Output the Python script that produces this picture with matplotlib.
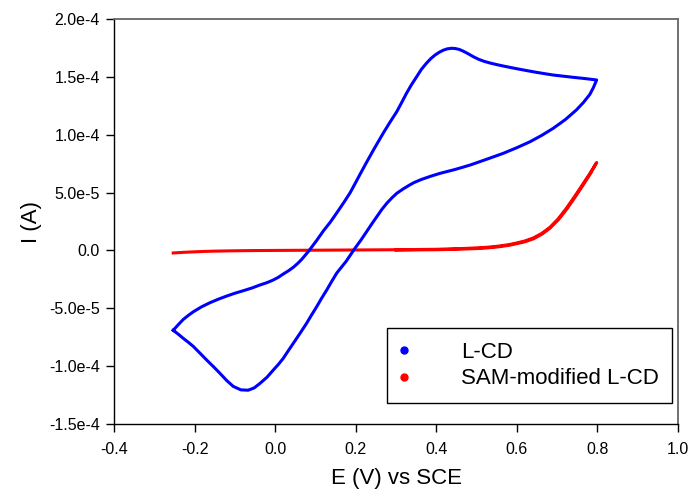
import matplotlib
matplotlib.use("Agg")
import matplotlib.pyplot as plt
from matplotlib.lines import Line2D

plt.rcParams['font.family'] = ['Liberation Sans', 'DejaVu Sans']

# L-CD (blue) cyclic voltammogram, current in units of 1e-5 A
lcd_E = [-0.253, -0.240, -0.228, -0.215, -0.203, -0.183, -0.162, -0.140, -0.120,
         -0.100, -0.079, -0.058, -0.038, -0.020, -0.005, 0.008, 0.020, 0.033,
         0.045, 0.056, 0.066, 0.082, 0.092, 0.103, 0.120, 0.137, 0.153, 0.170,
         0.186, 0.198, 0.211, 0.227, 0.244, 0.256, 0.268, 0.285, 0.302, 0.314,
         0.326, 0.338, 0.351, 0.363, 0.376, 0.387, 0.397, 0.407, 0.417, 0.427,
         0.438, 0.447, 0.457, 0.467, 0.480, 0.492, 0.505, 0.518, 0.533, 0.550,
         0.566, 0.587, 0.608, 0.628, 0.649, 0.670, 0.690, 0.715, 0.740, 0.770,
         0.798,
         0.790, 0.781, 0.765, 0.748, 0.720, 0.690, 0.662, 0.633, 0.600, 0.566,
         0.525, 0.484, 0.447, 0.409, 0.385, 0.362, 0.345, 0.335, 0.318, 0.302,
         0.290, 0.277, 0.265, 0.252, 0.240, 0.227, 0.213, 0.198, 0.176, 0.153,
         0.140, 0.128, 0.115, 0.103, 0.090, 0.078, 0.062, 0.045, 0.032, 0.020,
         0.008, -0.005, -0.020, -0.038, -0.052, -0.067, -0.085, -0.104, -0.120,
         -0.137, -0.153, -0.170, -0.186, -0.203, -0.215, -0.228, -0.240, -0.253]
lcd_I_e5 = [-6.90, -6.40, -5.96, -5.60, -5.30, -4.88, -4.52, -4.20, -3.94,
            -3.70, -3.48, -3.25, -2.99, -2.78, -2.56, -2.32, -2.04, -1.76,
            -1.46, -1.12, -0.77, -0.11, 0.35, 0.86, 1.70, 2.45, 3.25, 4.12,
            4.98, 5.75, 6.60, 7.62, 8.68, 9.40, 10.12, 11.08, 12.00, 12.78,
            13.58, 14.30, 15.00, 15.65, 16.20, 16.60, 16.89, 17.12, 17.30, 17.42,
            17.47, 17.45, 17.37, 17.22, 16.98, 16.74, 16.52, 16.35, 16.20, 16.06,
            15.94, 15.79, 15.65, 15.52, 15.39, 15.27, 15.16, 15.06, 14.96, 14.85,
            14.73,
            14.08, 13.48, 12.78, 12.15, 11.30, 10.55, 9.95, 9.40, 8.88, 8.39,
            7.88, 7.38, 7.00, 6.66, 6.40, 6.12, 5.87, 5.68, 5.32, 4.94,
            4.55, 4.07, 3.55, 2.90, 2.30, 1.62, 0.90, 0.18, -0.95, -1.95,
            -2.70, -3.42, -4.15, -4.87, -5.60, -6.30, -7.15, -8.03, -8.70, -9.33,
            -9.85, -10.35, -10.95, -11.50, -11.88, -12.08, -12.05, -11.75, -11.25,
            -10.62, -10.05, -9.47, -8.90, -8.30, -7.95, -7.60, -7.25, -6.90]

# SAM-modified L-CD (red), current in units of 1e-6 A
sam_E = [-0.253, -0.225, -0.200, -0.175, -0.150, -0.100, -0.050, 0.000, 0.100,
         0.200, 0.300, 0.400, 0.440, 0.475, 0.500, 0.520, 0.540, 0.558, 0.580,
         0.599, 0.620, 0.641, 0.662, 0.682, 0.703, 0.723, 0.745, 0.765, 0.782,
         0.798,
         0.782, 0.765, 0.745, 0.723, 0.703, 0.682, 0.662, 0.641, 0.620, 0.599,
         0.580, 0.558, 0.540, 0.520, 0.500, 0.475, 0.440, 0.400, 0.300]
sam_I_e6 = [-2.2, -1.6, -1.2, -0.85, -0.6, -0.3, -0.1, 0.0, 0.2,
            0.4, 0.6, 1.0, 1.4, 1.8, 2.2, 2.6, 3.2, 3.9, 5.0,
            6.4, 8.2, 10.8, 14.8, 20.0, 27.5, 36.5, 47.5, 58.0, 67.0,
            76.0,
            66.0, 56.8, 46.3, 35.3, 26.5, 19.2, 14.0, 10.0, 7.5, 5.8,
            4.4, 3.3, 2.6, 2.0, 1.6, 1.3, 0.9, 0.6, 0.3]

lcd_I = [v * 1e-5 for v in lcd_I_e5]
sam_I = [v * 1e-6 for v in sam_I_e6]

xticks = [-0.4, -0.2, 0.0, 0.2, 0.4, 0.6, 0.8, 1.0]
xtick_labels = ['-0.4', '-0.2', '0.0', '0.2', '0.4', '0.6', '0.8', '1.0']
yticks = [-1.5e-4, -1.0e-4, -5.0e-5, 0.0, 5.0e-5, 1.0e-4, 1.5e-4, 2.0e-4]
ytick_labels = ['-1.5e-4', '-1.0e-4', '-5.0e-5', '0.0', '5.0e-5', '1.0e-4', '1.5e-4', '2.0e-4']
series_labels = ['L-CD', 'SAM-modified L-CD']
colors = ['#0000ff', '#ff0000']

fig = plt.figure(figsize=(6.93, 4.99), dpi=100)
ax = fig.add_axes([0.1645, 0.1503, 0.8139, 0.8116])

ax.plot(lcd_E, lcd_I, color=colors[0], lw=2.2, solid_joinstyle='round', zorder=3)
ax.plot(sam_E, sam_I, color=colors[1], lw=2.2, solid_joinstyle='round', zorder=2)

ax.set_xlim(-0.4, 1.0)
ax.set_ylim(-1.5e-4, 2.0e-4)
ax.set_xticks(xticks)
ax.set_xticklabels(xtick_labels)
ax.set_yticks(yticks)
ax.set_yticklabels(ytick_labels)
ax.tick_params(axis='both', direction='out', length=6, width=1, labelsize=11.5,
               colors='black')
ax.tick_params(axis='y', pad=4)
ax.tick_params(axis='x', pad=7)
ax.tick_params(top=False, right=False)
for s in ['left', 'bottom']:
    ax.spines[s].set_color('black')
    ax.spines[s].set_linewidth(1.0)
for s in ['top', 'right']:
    ax.spines[s].set_color('#666666')
    ax.spines[s].set_linewidth(1.3)

ax.set_xlabel('E (V) vs SCE', fontsize=16, labelpad=8)
ax.set_ylabel('I (A)', fontsize=16, labelpad=5)

handles = [Line2D([], [], ls='none', marker='o', markersize=5, color=c) for c in colors]
leg = ax.legend(handles, series_labels, loc='upper left',
                bbox_to_anchor=(0.484, 0.237), fontsize=16, frameon=True,
                fancybox=False, edgecolor='black', framealpha=1,
                borderpad=0.62, handlelength=0.3, handletextpad=2.4,
                labelspacing=0.25, borderaxespad=0)
leg.get_frame().set_linewidth(1.0)

fig.savefig('out.png', dpi=100)
